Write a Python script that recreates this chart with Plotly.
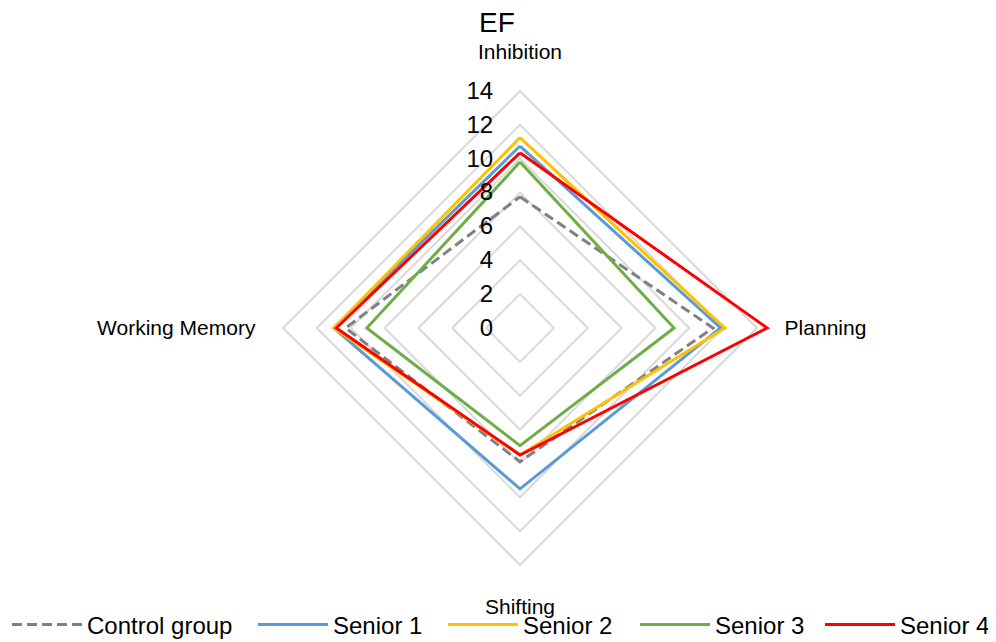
import plotly.graph_objects as go

categories = ["Inhibition", "Planning", "Shifting", "Working Memory"]
series_names = ["Control group", "Senior 1", "Senior 2", "Senior 3", "Senior 4"]
control = [7.75, 11.4, 7.9, 10.3]
senior1 = [10.75, 11.85, 9.5, 11.0]
senior2 = [11.25, 12.1, 7.5, 11.0]
senior3 = [9.8, 9.1, 6.95, 9.05]
senior4 = [10.35, 14.6, 7.5, 10.85]
radial_ticks = [0, 2, 4, 6, 8, 10, 12, 14]

values = [control, senior1, senior2, senior3, senior4]
colors = ["#808080", "#5B9BD5", "#FFC000", "#70AD47", "#FF0000"]
dashes = ["10px,5px", "solid", "solid", "solid", "solid"]
legend_ids = ["legend", "legend2", "legend3", "legend4", "legend5"]
legend_left_px = [12, 258, 448, 640, 830]

fig = go.Figure()
for name, vals, col, dash, lg in zip(series_names, values, colors, dashes, legend_ids):
    fig.add_trace(go.Scatterpolar(
        r=vals + vals[:1],
        theta=categories + categories[:1],
        mode="lines",
        name=name,
        legend=lg,
        line=dict(color=col, width=3, dash=dash),
    ))

OFF = 8  # page body margin
W, H = 996, 642
RMAX = 15
R14 = 237
R = R14 * RMAX / 14
cx, cy = 520 - OFF, 328 - OFF

legends = {}
for i, (lg, lx) in enumerate(zip(legend_ids, legend_left_px)):
    if i < len(legend_ids) - 1:
        pos = dict(x=(lx - 5 - OFF) / W, xanchor="left")
    else:
        pos = dict(x=(990 - OFF + 5) / W, xanchor="right")
    legends[lg] = dict(
        orientation="h", y=1 - (625 - OFF) / H, yanchor="middle",
        font=dict(size=24, color="black"), itemwidth=70, bgcolor="rgba(0,0,0,0)",
        **pos,
    )

fig.update_layout(
    width=W, height=H,
    margin=dict(l=0, r=0, t=0, b=0, autoexpand=False),
    paper_bgcolor="white",
    font=dict(family="Liberation Sans, Arial, sans-serif", color="black"),
    title=dict(text="EF", x=(497 - OFF) / W, xanchor="center", y=1 - (22 - OFF) / H, yanchor="middle",
               font=dict(size=28, color="black")),
    polar=dict(
        domain=dict(x=[(cx - R) / W, (cx + R) / W], y=[(H - cy - R) / H, (H - cy + R) / H]),
        bgcolor="white",
        gridshape="linear",
        radialaxis=dict(
            range=[0, RMAX], tickvals=radial_ticks, angle=90, tickangle=90,
            side="counterclockwise",
            showline=False, showgrid=True, gridcolor="#D9D9D9", gridwidth=1.5,
            ticks="outside", ticklen=18, tickcolor="rgba(0,0,0,0)",
            tickfont=dict(size=24, color="black"),
        ),
        angularaxis=dict(
            direction="clockwise", rotation=90,
            showgrid=False, showline=False,
            ticks="outside", ticklen=6, tickcolor="rgba(0,0,0,0)",
            tickfont=dict(size=21, color="black"),
        ),
    ),
    showlegend=True,
    **legends,
)

fig.write_html("out.html")
